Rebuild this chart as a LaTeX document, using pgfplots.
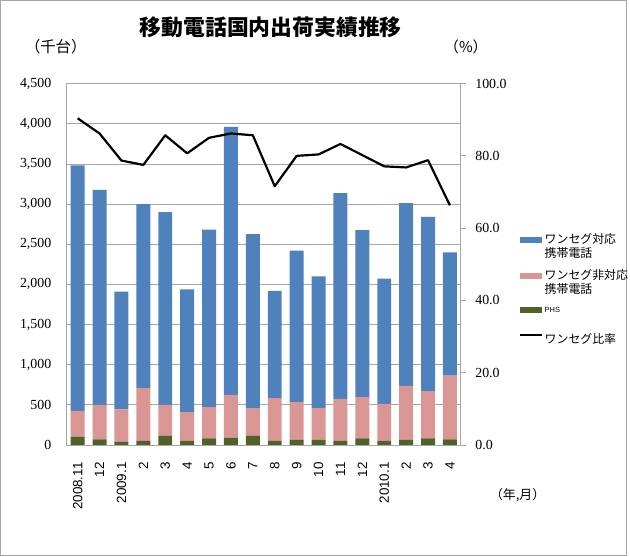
\documentclass[border=0pt]{standalone}
\usepackage{pgfplots}
\pgfplotsset{compat=1.18}
\usepackage{pgfplotstable}
\usepackage{fontspec}
\setmainfont{Liberation Serif}
\newfontfamily\jp{Noto Sans CJK JP}
\newfontfamily\sans{Liberation Sans}
\definecolor{c1}{HTML}{4F81BD}
\definecolor{c2}{HTML}{D99694}
\definecolor{c3}{HTML}{4F6228}
\definecolor{gr}{HTML}{A6A6A6}
\pgfplotstableread{
x phs non one rate
0 104 321 3058 90.4
1 71 429 2676 86.2
2 42 400 1468 78.7
3 50 658 2291 77.5
4 112 388 2400 85.7
5 50 358 1530 80.7
6 83 388 2212 85.0
7 92 533 3337 86.2
8 112 346 2168 85.7
9 50 533 1336 71.6
10 62 471 1887 80.0
11 67 391 1642 80.4
12 50 525 2560 83.3
13 83 513 2080 80.2
14 50 462 1560 77.1
15 62 675 2274 76.8
16 83 588 2170 78.8
17 71 791 1536 66.3
}\data
\begin{document}
\begin{tikzpicture}[x=1bp,y=1bp]
\draw[gr, line width=1bp] (0.5,0.5) rectangle (629.5,558.5);
\begin{axis}[
  at={(67bp,112bp)}, anchor=south west,
  scale only axis, width=396bp, height=363bp,
  xmin=-0.5, xmax=17.5, ymin=0, ymax=4500,
  ybar stacked, bar width=14bp,
  ytick={0,500,...,4500},
  ymajorgrids, grid style={gr, line width=0.8bp},
  axis line style={gr, line width=0.8bp},
  major tick length=0pt,
  xtick=data,
  xticklabels={2008.11,12,2009.1,2,3,4,5,6,7,8,9,10,11,12,2010.1,2,3,4},
  xticklabel style={rotate=90, anchor=east, font=\sans\fontsize{13.5}{13.5}\selectfont, xshift=-14bp},
  yticklabel style={font=\fontsize{14}{14}\selectfont, xshift=-12bp},
  /pgf/number format/assume math mode=true,
  /pgf/number format/1000 sep={,},
]
\addplot[fill=c3, draw=none] table[x=x,y=phs]{\data};
\addplot[fill=c2, draw=none] table[x=x,y=non]{\data};
\addplot[fill=c1, draw=none] table[x=x,y=one]{\data};
\end{axis}
\begin{axis}[
  at={(67bp,112bp)}, anchor=south west,
  scale only axis, width=396bp, height=363bp,
  xmin=-0.5, xmax=17.5, ymin=0, ymax=100,
  axis x line=none, axis y line*=right,
  axis line style={gr, line width=0.8bp},
  ytick={0,20,...,100},
  tick align=outside, major tick length=5bp,
  ytick style={gr, line width=0.8bp},
  yticklabel style={font=\fontsize{14}{14}\selectfont, xshift=6bp},
  /pgf/number format/assume math mode=true,
  /pgf/number format/fixed, /pgf/number format/fixed zerofill,
  /pgf/number format/precision=1,
  legend style={at={(1.146,0.59)}, anchor=north west, draw=none, fill=none,
    font=\jp\fontsize{12}{13.5}\selectfont, row sep=7bp,
    cells={align=left, anchor=west}, inner sep=0pt},
]
\addlegendimage{legend image code/.code={\fill[c1] (0bp,4bp) rectangle (22bp,9bp);}}
\addlegendentry{ワンセグ対応\\携帯電話}
\addlegendimage{legend image code/.code={\fill[c2] (0bp,4bp) rectangle (22bp,9bp);}}
\addlegendentry{ワンセグ非対応\\携帯電話}
\addlegendimage{legend image code/.code={\fill[c3] (0bp,-2.5bp) rectangle (22bp,2.5bp);}}
\addlegendentry{\sans\fontsize{7.5}{8}\selectfont PHS\rule[-3bp]{0pt}{10bp}}
\addplot[black, line width=2.2bp, line join=round, legend image code/.code={\draw[black, line width=2.2bp] (0bp,0bp) -- (22bp,0bp);}] table[x=x,y=rate]{\data};
\addlegendentry{ワンセグ比率\rule[-23.5bp]{0pt}{42bp}}
\end{axis}
\node[font=\jp\fontsize{22}{22}\selectfont\bfseries] at (272,532) {移動電話国内出荷実績推移};
\node[font=\jp\fontsize{15.5}{15.5}\selectfont] at (56,512) {（千台）};
\node[font=\jp\fontsize{15}{15}\selectfont] at (468,512) {（\%）};
\node[font=\jp\fontsize{13}{13}\selectfont] at (520,62) {（年,月）};
\end{tikzpicture}
\end{document}
